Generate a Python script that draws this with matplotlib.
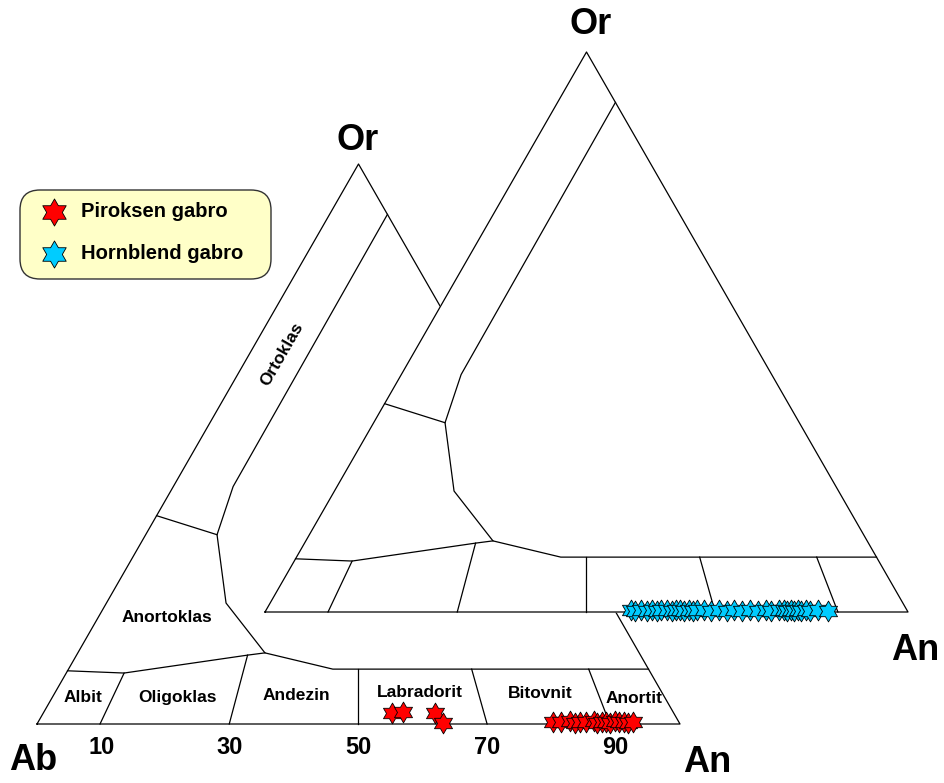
import numpy as np
import matplotlib
matplotlib.use("Agg")
import matplotlib.pyplot as plt
from matplotlib.path import Path
from matplotlib.patches import FancyBboxPatch

plt.rcParams['font.family'] = ['Liberation Sans', 'DejaVu Sans']
plt.rcParams['font.weight'] = 'bold'

# -- data: (An %, Or %) of the samples --
piroksen_an = [54.2, 55.8, 60.9, 63.1, 80.1, 81.4, 82.7, 83.5, 84.3, 85.3,
               86.4, 87.0, 87.7, 88.3, 89.0, 89.6, 90.4, 91.1, 91.8, 92.5]
piroksen_or = [2.0, 2.2, 2.0, 0.2, 0.4, 0.3, 0.5, 0.2, 0.4, 0.3,
               0.6, 0.2, 0.4, 0.3, 0.2, 0.5, 0.3, 0.4, 0.2, 0.3]

hornblend_an = [56.8, 57.5, 58.3, 59.3, 60.0, 60.9, 61.4, 62.4, 63.2, 63.8,
                64.3, 65.1, 65.8, 66.5, 67.0, 68.2, 69.2, 70.5, 71.7, 72.8,
                74.1, 75.3, 76.5, 77.8, 78.6, 79.8, 80.5, 81.1, 81.6, 82.2,
                82.8, 83.2, 84.0, 84.6, 85.8, 87.4]
hornblend_or = [0.3, 0.2, 0.4, 0.2, 0.3, 0.2, 0.4, 0.3, 0.2, 0.3,
                0.4, 0.2, 0.3, 0.2, 0.4, 0.3, 0.2, 0.3, 0.2, 0.3,
                0.2, 0.3, 0.2, 0.3, 0.2, 0.3, 0.4, 0.2, 0.3, 0.2,
                0.3, 0.2, 0.3, 0.2, 0.3, 0.2]

# -- field boundaries, (An %, Or %) --
ortoklas_line = [(9.0, 91.0), (9.3, 42.4), (11.1, 33.8), (18.6, 21.6),
                 (29.1, 12.7), (41.1, 9.8), (90.2, 9.8)]
ortoklas_anortoklas = [(0.0, 37.2), (11.1, 33.8)]
anortoklas_plag = [(0.0, 9.5), (9.0, 9.1), (26.6, 12.3), (29.1, 12.7)]
plag_dividers = [[(9.0, 9.1), (9.8, 0.0)],
                 [(26.6, 12.3), (29.9, 0.0)],
                 [(45.0, 9.8), (49.9, 0.0)],
                 [(62.7, 9.8), (70.0, 0.0)],
                 [(80.9, 9.8), (89.1, 0.0)]]

field_names = ['Albit', 'Oligoklas', 'Andezin', 'Labradorit', 'Bitovnit',
               'Anortit', 'Anortoklas']
field_an = [4.7, 19.4, 37.8, 56.7, 75.5, 90.6, 10.7]
field_or = [4.8, 4.8, 5.0, 5.7, 5.4, 4.5, 19.1]

tick_vals = [10, 30, 50, 70, 90]

SIDE = 643.0
HEIGHT = 560.0
front = (37.0, 724.0)   # Ab corner of the lower-left diagram
back = (265.0, 612.0)   # Ab corner of the upper-right diagram


def to_xy(an, orr, origin):
    an = np.asarray(an, dtype=float) / 100.0
    orr = np.asarray(orr, dtype=float) / 100.0
    return origin[0] + SIDE * (an + orr / 2.0), origin[1] - HEIGHT * orr


def draw_diagram(ax, origin, z):
    # outline
    tx, ty = to_xy([0, 100, 0, 0], [0, 0, 100, 0], origin)
    ax.fill(tx, ty, color='white', zorder=z)
    ax.plot(tx, ty, color='black', lw=0.9, zorder=z + 0.5)
    for line in [ortoklas_line, ortoklas_anortoklas, anortoklas_plag] + plag_dividers:
        a, o = zip(*line)
        x, y = to_xy(a, o, origin)
        ax.plot(x, y, color='black', lw=0.9, zorder=z + 0.5)


hexagram = Path.unit_regular_star(6, 0.577)

fig = plt.figure(figsize=(9.44, 7.83), dpi=100)
ax = fig.add_axes([0, 0, 1, 1])
ax.set_xlim(0, 944)
ax.set_ylim(783, 0)
ax.axis('off')

# lower-left diagram
draw_diagram(ax, front, 1)
for name, a, o in zip(field_names, field_an, field_or):
    x, y = to_xy(a, o, front)
    ax.text(x, y, name, fontsize=12.5, ha='center', va='center', zorder=2)
x, y = to_xy(5.1, 66.0, front)
ax.text(x, y, 'Ortoklas', fontsize=12.5, ha='center', va='center',
        rotation=60, rotation_mode='anchor', zorder=2)
for t in tick_vals:
    x, y = to_xy(t, 0, front)
    ax.text(x, y + 24, str(t), fontsize=17, ha='center', va='center')
ax.text(front[0] - 4, front[1] + 37, 'Ab', fontsize=26, ha='center', va='center')
ax.text(front[0] + SIDE + 27, front[1] + 38, 'An', fontsize=26, ha='center', va='center')
ax.text(front[0] + SIDE / 2 - 1, front[1] - HEIGHT - 23, 'Or', fontsize=26,
        ha='center', va='center')

x, y = to_xy(piroksen_an, piroksen_or, front)
h1 = ax.scatter(x, y, s=225, marker=hexagram, facecolor='#FF0000',
                edgecolor='black', linewidths=0.6, zorder=3, label='Piroksen gabro')

# upper-right diagram (drawn on top)
draw_diagram(ax, back, 4)
ax.text(back[0] + SIDE + 7, back[1] + 39, 'An', fontsize=26, ha='center', va='center')
ax.text(back[0] + SIDE / 2 + 4, back[1] - HEIGHT - 28, 'Or', fontsize=26,
        ha='center', va='center')

x, y = to_xy(hornblend_an, hornblend_or, back)
h2 = ax.scatter(x, y, s=225, marker=hexagram, facecolor='#00CCFF',
                edgecolor='black', linewidths=0.6, zorder=6, label='Hornblend gabro')

# legend box
box = FancyBboxPatch((20, 190), 251, 89, boxstyle='round,pad=0,rounding_size=20',
                     facecolor='#FFFFC8', edgecolor='#333333', lw=1.0, zorder=7)
ax.add_patch(box)
leg = ax.legend(handles=[h1, h2], loc='upper left',
                bbox_to_anchor=(34 / 944, 1 - 202 / 783),
                bbox_transform=fig.transFigure, borderaxespad=0, borderpad=0,
                prop={'size': 14.5, 'weight': 'bold'}, markerscale=1.3,
                frameon=False, handlelength=2.0, handletextpad=0.35,
                labelspacing=1.15)
leg.set_zorder(8)

plt.savefig('out.png', dpi=100)
